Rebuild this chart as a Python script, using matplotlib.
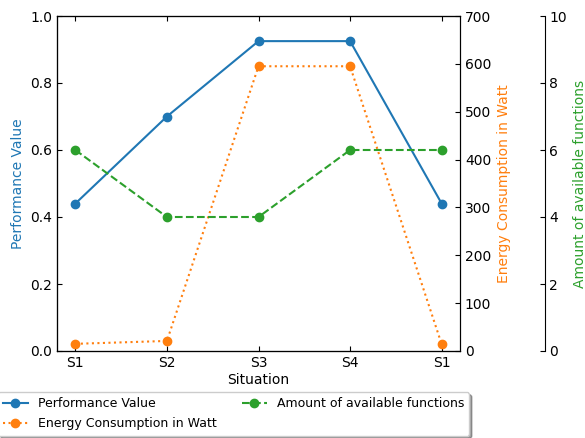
import matplotlib
matplotlib.use("Agg")
import matplotlib.pyplot as plt

situations = ["S1", "S2", "S3", "S4", "S1"]
performance = [0.44, 0.70, 0.925, 0.925, 0.44]
energy_watt = [15, 21, 595, 595, 14]
functions = [6, 4, 4, 6, 6]

plt.rcParams["xtick.direction"] = "in"
plt.rcParams["ytick.direction"] = "in"
plt.rcParams["xtick.top"] = True

fig = plt.figure(figsize=(5.85, 4.38), dpi=100)
ax = fig.add_axes([57 / 585, 1 - 351 / 438, 403 / 585, 335 / 438])
ax2 = ax.twinx()
ax3 = ax.twinx()
ax3.spines["right"].set_position(("axes", 1.21))

x = list(range(len(situations)))
l1, = ax.plot(x, performance, "-o", color="tab:blue", label="Performance Value")
l2, = ax2.plot(x, energy_watt, ":o", color="tab:orange", label="Energy Consumption in Watt")
l3, = ax3.plot(x, functions, "--o", color="tab:green", label="Amount of available functions")

ax.set_xticks(x)
ax.set_xticklabels(situations)
ax.set_xlabel("Situation", labelpad=2)
ax.set_ylim(0, 1.0)
ax2.set_ylim(0, 700)
ax3.set_ylim(0, 10)

ax.set_ylabel("Performance Value", color="tab:blue")
ax2.set_ylabel("Energy Consumption in Watt", color="tab:orange")
ax3.set_ylabel("Amount of available functions", color="tab:green")

fig.legend(handles=[l1, l2, l3], ncol=2, loc="upper right",
           bbox_to_anchor=(469 / 585, 1 - 392 / 438), shadow=True,
           borderaxespad=0, fontsize=9, labelspacing=0.6)

fig.savefig("out.png", dpi=100)
